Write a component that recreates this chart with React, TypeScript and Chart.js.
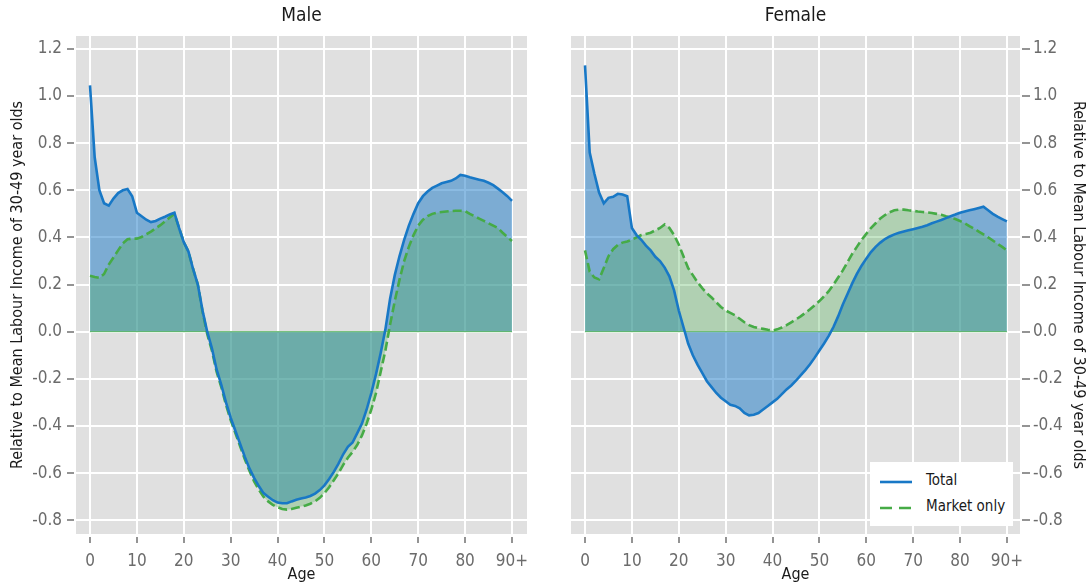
import React, { useEffect, useRef } from "react";
import { Chart, registerables } from "chart.js";

Chart.register(...registerables);

// ---------- data ----------
const AGES = [
  0, 1, 2, 3, 4, 5, 6, 7, 8, 9, 10, 11, 12, 13, 14, 15, 16, 17, 18, 19,
  20, 21, 22, 23, 24, 25, 26, 27, 28, 29, 30, 31, 32, 33, 34, 35, 36, 37, 38, 39,
  40, 41, 42, 43, 44, 45, 46, 47, 48, 49, 50, 51, 52, 53, 54, 55, 56, 57, 58, 59,
  60, 61, 62, 63, 64, 65, 66, 67, 68, 69, 70, 71, 72, 73, 74, 75, 76, 77, 78, 79,
  80, 81, 82, 83, 84, 85, 86, 87, 88, 89, 90,
];

const MALE_TOTAL = [
  1.045, 0.74, 0.6, 0.545, 0.535, 0.565, 0.588, 0.6, 0.605, 0.575,
  0.505, 0.49, 0.475, 0.465, 0.47, 0.48, 0.488, 0.497, 0.505, 0.44,
  0.38, 0.34, 0.265, 0.2, 0.09, 0.0, -0.07, -0.16, -0.225, -0.3,
  -0.365, -0.42, -0.475, -0.53, -0.58, -0.62, -0.655, -0.685, -0.7, -0.715,
  -0.725, -0.728, -0.728, -0.72, -0.713, -0.708, -0.703, -0.697, -0.687, -0.672,
  -0.652, -0.625, -0.595, -0.56, -0.52, -0.488, -0.47, -0.43, -0.39, -0.33,
  -0.26, -0.18, -0.09, 0.01, 0.14, 0.24, 0.32, 0.39, 0.45, 0.5,
  0.545, 0.575, 0.595, 0.61, 0.62, 0.63, 0.635, 0.64, 0.65, 0.665,
  0.662, 0.655, 0.65, 0.645, 0.64, 0.632, 0.622, 0.607, 0.592, 0.575,
  0.555,
];

const MALE_MARKET = [
  0.237, 0.232, 0.228, 0.245, 0.285, 0.315, 0.345, 0.375, 0.392, 0.395,
  0.395, 0.402, 0.413, 0.425, 0.438, 0.452, 0.468, 0.485, 0.5, 0.44,
  0.38, 0.34, 0.265, 0.2, 0.085, -0.01, -0.08, -0.17, -0.235, -0.31,
  -0.375, -0.43, -0.485, -0.54, -0.59, -0.635, -0.67, -0.7, -0.72, -0.735,
  -0.745, -0.752, -0.755, -0.752, -0.747, -0.742, -0.737, -0.73, -0.72, -0.705,
  -0.685, -0.66, -0.63, -0.6, -0.565, -0.535, -0.51, -0.48, -0.44, -0.39,
  -0.33, -0.26, -0.17, -0.08, 0.03, 0.13, 0.22, 0.3, 0.36, 0.41,
  0.45, 0.475, 0.49, 0.5, 0.505, 0.508, 0.51, 0.512, 0.513, 0.513,
  0.512, 0.5, 0.49, 0.48, 0.47, 0.46, 0.45, 0.44, 0.42, 0.402,
  0.385,
];

const FEMALE_TOTAL = [
  1.13, 0.76, 0.67, 0.59, 0.545, 0.568, 0.572, 0.585, 0.582, 0.575,
  0.44, 0.41, 0.39, 0.365, 0.345, 0.318, 0.3, 0.272, 0.235, 0.175,
  0.09, 0.02, -0.05, -0.1, -0.14, -0.175, -0.21, -0.235, -0.26, -0.28,
  -0.295, -0.31, -0.315, -0.325, -0.345, -0.355, -0.352, -0.345, -0.33, -0.315,
  -0.3, -0.285, -0.265, -0.245, -0.228, -0.208, -0.185, -0.163, -0.138, -0.11,
  -0.08, -0.05, -0.018, 0.02, 0.065, 0.115, 0.16, 0.205, 0.245, 0.28,
  0.31, 0.338, 0.36, 0.378, 0.393, 0.404, 0.413, 0.42, 0.425, 0.43,
  0.435, 0.44, 0.445, 0.452, 0.46, 0.467, 0.474, 0.482, 0.49, 0.497,
  0.505, 0.51, 0.515, 0.52, 0.525, 0.53, 0.515, 0.5, 0.488, 0.478,
  0.468,
];

const FEMALE_MARKET = [
  0.345, 0.255, 0.23, 0.222, 0.27, 0.32, 0.35, 0.368, 0.378, 0.383,
  0.39, 0.4, 0.41, 0.415, 0.42, 0.43, 0.44, 0.455, 0.44, 0.41,
  0.37, 0.32, 0.27, 0.24, 0.21, 0.185, 0.163, 0.145, 0.125, 0.105,
  0.09, 0.08, 0.07, 0.055, 0.04, 0.028, 0.02, 0.015, 0.012, 0.008,
  0.005, 0.01, 0.018, 0.028, 0.04, 0.052, 0.065, 0.08, 0.095, 0.112,
  0.13, 0.15, 0.172, 0.2, 0.23, 0.26, 0.295, 0.33, 0.36, 0.39,
  0.415, 0.44, 0.46, 0.48, 0.495, 0.507, 0.515, 0.518, 0.518, 0.515,
  0.513, 0.51, 0.508, 0.506, 0.504, 0.5, 0.496, 0.49, 0.485, 0.478,
  0.47, 0.46, 0.448, 0.437, 0.425, 0.413, 0.4, 0.387, 0.373, 0.36,
  0.345,
];

const X_TICKS = [0, 10, 20, 30, 40, 50, 60, 70, 80, 90];
const X_TICK_LABELS = ["0", "10", "20", "30", "40", "50", "60", "70", "80", "90+"];
const Y_TICKS = [-0.8, -0.6, -0.4, -0.2, 0.0, 0.2, 0.4, 0.6, 0.8, 1.0, 1.2];
const Y_TICK_LABELS = ["-0.8", "-0.6", "-0.4", "-0.2", "0.0", "0.2", "0.4", "0.6", "0.8", "1.0", "1.2"];

const SERIES_LABELS = ["Total", "Market only"];
const Y_TITLE = "Relative to Mean Labour Income of 30-49 year olds";
const X_TITLE = "Age";

// ---------- styles ----------
const FONT = "'Liberation Sans Narrow', 'Arial Narrow', 'DejaVu Sans Condensed', sans-serif";
const BLUE = "#1878c6";
const BLUE_FILL = "rgba(24,120,198,0.5)";
const GREEN = "#46ab46";
const GREEN_FILL = "rgba(76,175,80,0.32)";
const PLOT_BG = "#e0e0e0";
const TICK_COLOR = "#6b6b6b";

const bgPlugin = {
  id: "plotBg",
  beforeDraw(chart: any) {
    const { ctx, chartArea } = chart;
    ctx.save();
    ctx.fillStyle = PLOT_BG;
    ctx.fillRect(chartArea.left, chartArea.top, chartArea.right - chartArea.left, chartArea.bottom - chartArea.top);
    ctx.restore();
  },
};

const baselinePlugin = {
  id: "baseline",
  beforeDatasetsDraw(chart: any) {
    const { ctx } = chart;
    const xs = chart.scales.x;
    const ys = chart.scales.y;
    const y0 = ys.getPixelForValue(0);
    ctx.save();
    ctx.strokeStyle = "rgba(70,171,70,0.8)";
    ctx.lineWidth = 1;
    ctx.beginPath();
    ctx.moveTo(xs.getPixelForValue(AGES[0]), y0);
    ctx.lineTo(xs.getPixelForValue(AGES[AGES.length - 1]), y0);
    ctx.stroke();
    ctx.restore();
  },
};

const tickMarkPlugin = {
  id: "tickMarks",
  afterDraw(chart: any) {
    const { ctx, chartArea } = chart;
    const xs = chart.scales.x;
    const ys = chart.scales.y;
    ctx.save();
    ctx.strokeStyle = "#707070";
    ctx.lineWidth = 1.5;
    for (const t of X_TICKS) {
      const px = Math.round(xs.getPixelForValue(t));
      ctx.beginPath();
      ctx.moveTo(px, chartArea.bottom + 3);
      ctx.lineTo(px, chartArea.bottom + 9);
      ctx.stroke();
    }
    const right = ys.position === "right";
    for (const t of Y_TICKS) {
      const py = Math.round(ys.getPixelForValue(t));
      ctx.beginPath();
      if (right) {
        ctx.moveTo(chartArea.right + 2, py);
        ctx.lineTo(chartArea.right + 10, py);
      } else {
        ctx.moveTo(chartArea.left - 9, py);
        ctx.lineTo(chartArea.left - 2, py);
      }
      ctx.stroke();
    }
    ctx.restore();
  },
};

function makeConfig(title: string, total: number[], market: number[], side: "left" | "right", xMin: number, xMax: number) {
  const isLeft = side === "left";
  const totalPts = AGES.map((a, i) => ({ x: a, y: total[i] }));
  const marketPts = AGES.map((a, i) => ({ x: a, y: market[i] }));
  return {
    type: "line" as const,
    data: {
      datasets: [
        // lines (drawn last = on top; Total above Market only)
        {
          label: SERIES_LABELS[0],
          data: totalPts,
          borderColor: BLUE,
          borderWidth: 2.6,
          pointRadius: 0,
          fill: false,
          tension: 0,
        },
        {
          label: SERIES_LABELS[1],
          data: marketPts,
          borderColor: GREEN,
          borderWidth: 2.6,
          borderDash: [9, 4],
          pointRadius: 0,
          fill: false,
          tension: 0,
        },
        // area fills (green over blue)
        {
          label: SERIES_LABELS[1] + " area",
          data: marketPts,
          borderWidth: 0,
          borderColor: "rgba(0,0,0,0)",
          backgroundColor: GREEN_FILL,
          pointRadius: 0,
          fill: "origin",
          tension: 0,
        },
        {
          label: SERIES_LABELS[0] + " area",
          data: totalPts,
          borderWidth: 0,
          borderColor: "rgba(0,0,0,0)",
          backgroundColor: BLUE_FILL,
          pointRadius: 0,
          fill: "origin",
          tension: 0,
        },
      ],
    },
    options: {
      animation: false,
      responsive: false,
      events: [],
      layout: { padding: isLeft ? { left: 0, right: 21, top: 0, bottom: 0 } : { left: 23, right: 0, top: 0, bottom: 0 } },
      plugins: {
        legend: { display: false },
        tooltip: { enabled: false },
        filler: { drawTime: "beforeDatasetsDraw" },
        title: {
          display: true,
          text: title,
          fullSize: false,
          color: "#1a1a1a",
          font: { family: FONT, size: 19, weight: "normal" },
          padding: { top: 5, bottom: 8.2 },
        },
      },
      scales: {
        x: {
          type: "linear",
          min: xMin,
          max: xMax,
          afterBuildTicks: (s: any) => {
            s.ticks = X_TICKS.map((v) => ({ value: v }));
          },
          afterFit: (s: any) => {
            s.height = 51;
          },
          grid: { color: "#ffffff", lineWidth: 2, drawTicks: true, tickLength: 9, tickColor: "rgba(0,0,0,0)" },
          border: { display: false },
          ticks: {
            padding: 8,
            color: TICK_COLOR,
            font: { family: FONT, size: 17 },
            maxRotation: 0,
            autoSkip: false,
            callback: (_v: any, i: number) => X_TICK_LABELS[i],
          },
          title: {
            display: true,
            text: X_TITLE,
            color: "#1a1a1a",
            font: { family: FONT, size: 16 },
            padding: { top: 0, bottom: 1 },
          },
        },
        y: {
          type: "linear",
          position: side,
          min: -0.8583,
          max: 1.2546,
          afterBuildTicks: (s: any) => {
            s.ticks = Y_TICKS.map((v) => ({ value: v }));
          },
          afterFit: (s: any) => {
            s.width = isLeft ? 76 : 71;
          },
          grid: { color: "#ffffff", lineWidth: 2, drawTicks: true, tickLength: 9, tickColor: "rgba(0,0,0,0)" },
          border: { display: false },
          ticks: {
            padding: isLeft ? 5 : 4,
            color: TICK_COLOR,
            font: { family: FONT, size: 17 },
            autoSkip: false,
            callback: (_v: any, i: number) => Y_TICK_LABELS[i],
          },
          title: {
            display: true,
            text: Y_TITLE,
            color: "#1a1a1a",
            font: { family: FONT, size: 16 },
            padding: { top: isLeft ? 8 : 3.4, bottom: 0 },
          },
        },
      },
    },
    plugins: [bgPlugin, baselinePlugin, tickMarkPlugin],
  };
}

function Legend() {
  const font = `15px ${FONT}`;
  return (
    <div style={{ position: "absolute", left: 870, top: 462, width: 143, height: 64, background: "#ffffff" }}>
      <svg width={143} height={64} style={{ position: "absolute", left: 0, top: 0 }}>
        <line x1={10} y1={20} x2={42} y2={20} stroke={BLUE} strokeWidth={2.6} />
        <line x1={10} y1={46} x2={42} y2={46} stroke={GREEN} strokeWidth={2.6} strokeDasharray="12 7" />
      </svg>
      <div style={{ position: "absolute", left: 56, top: 9, height: 22, lineHeight: "22px", font, color: "#1a1a1a", whiteSpace: "nowrap" }}>
        {SERIES_LABELS[0]}
      </div>
      <div style={{ position: "absolute", left: 56, top: 35, height: 22, lineHeight: "22px", font, color: "#1a1a1a", whiteSpace: "nowrap" }}>
        {SERIES_LABELS[1]}
      </div>
    </div>
  );
}

export default function App() {
  const leftRef = useRef<HTMLCanvasElement | null>(null);
  const rightRef = useRef<HTMLCanvasElement | null>(null);

  useEffect(() => {
    const charts: Chart[] = [];
    if (leftRef.current) {
      charts.push(new Chart(leftRef.current, makeConfig("Male", MALE_TOTAL, MALE_MARKET, "left", -2.985, 93.2) as any));
    }
    if (rightRef.current) {
      charts.push(new Chart(rightRef.current, makeConfig("Female", FEMALE_TOTAL, FEMALE_MARKET, "right", -2.99, 92.8) as any));
    }
    return () => {
      charts.forEach((c) => c.destroy());
    };
  }, []);

  return (
    <div style={{ position: "absolute", left: 0, top: 0, width: 1091, height: 585, background: "#ffffff", overflow: "hidden" }}>
      <canvas ref={leftRef} width={548} height={585} style={{ position: "absolute", left: 0, top: 0 }} />
      <canvas ref={rightRef} width={543} height={585} style={{ position: "absolute", left: 548, top: 0 }} />
      <Legend />
    </div>
  );
}
